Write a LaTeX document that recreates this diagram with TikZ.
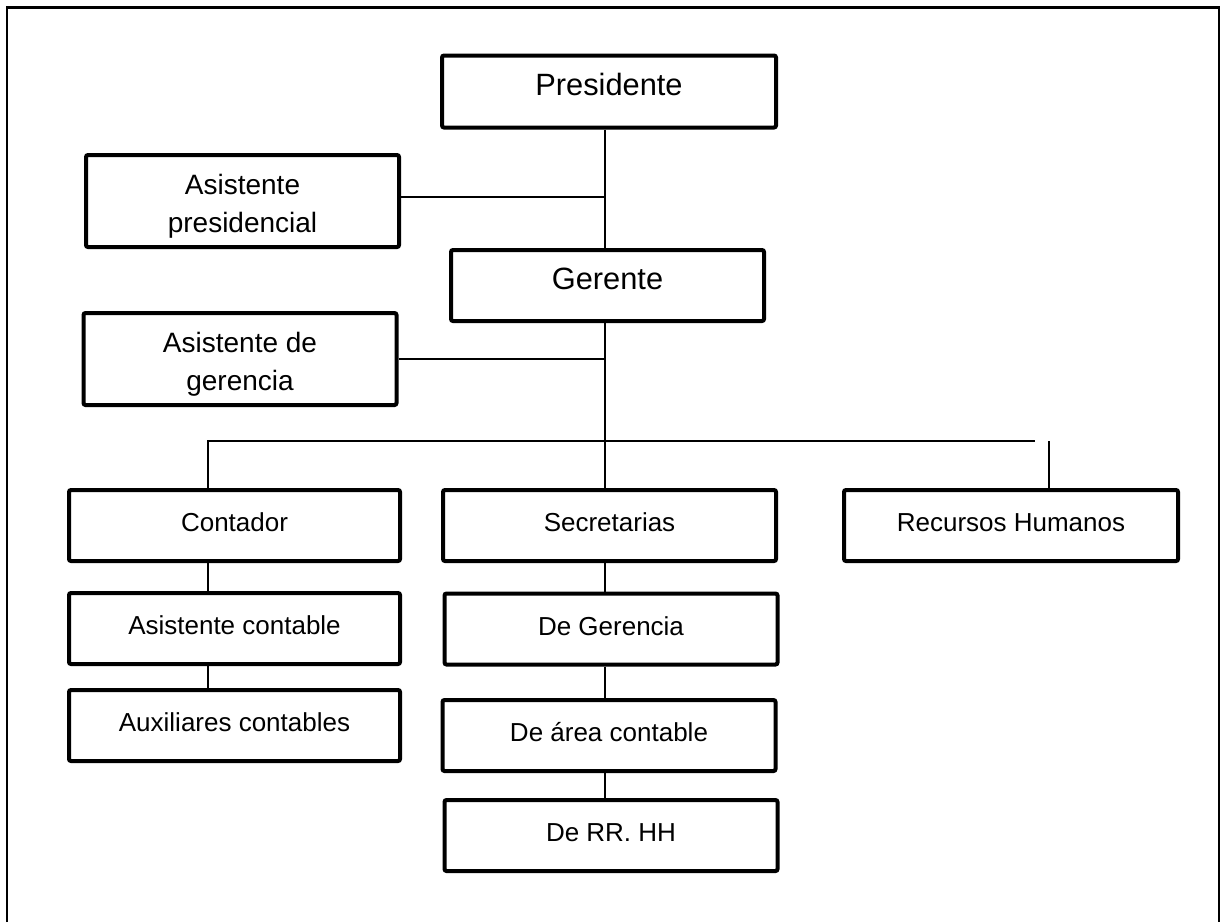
\documentclass[tikz,border=0pt]{standalone}
\usepackage{fontspec}
\setmainfont{Liberation Sans}
\usetikzlibrary{positioning, calc}

\begin{document}
\begin{tikzpicture}[
    x = 0.5pt, y = -0.5pt,
    caja/.style  = {draw = black, line width = 2pt, rounded corners = 1pt,
                    inner sep = 0pt},
    cargo/.style = {caja, font = \fontsize{15.4}{18}\selectfont,
                    minimum height = 36pt,
                    text height = 12pt, text depth = 8pt},
    asist/.style = {caja, align = center,
                    font = \fontsize{14}{19}\selectfont,
                    minimum width = 156.5pt, minimum height = 46pt},
    area/.style  = {caja, font = \fontsize{13}{16}\selectfont,
                    minimum width = 165.5pt, minimum height = 35.5pt,
                    text height = 10pt, text depth = 3.7pt},
    linea/.style = {draw = black, line width = 0.6pt},
    marco/.style = {draw = black, line width = 1.4pt},
  ]
    \useasboundingbox (0,0) rectangle (1225,922);

    %% ── Frame ────────────────────────────────────────────────────
    \draw[marco] (7,922) -- (7,7.5) -- (1219,7.5) -- (1219,922);

    %% ── Top of the chart ─────────────────────────────────────────
    \node[cargo, minimum width = 167pt] (PRES) at (609, 91.5) {Presidente};
    \node[asist] (APRES) at (242.5, 201)
      {\rule{0pt}{15pt}Asistente\\presidencial};
    \node[cargo, minimum width = 156.5pt, minimum height = 35.5pt]
      (GER) at (607.5, 285.5) {Gerente};
    \node[asist] (AGER) at (240, 359)
      {\rule{0pt}{15pt}Asistente de\\gerencia};

    %% ── Left column ──────────────────────────────────────────────
    \node[area] (CONT)  at (234.5, 525.5) {Contador};
    \node[area] (ACONT) at (234.5, 628.5) {Asistente contable};
    \node[area] (AUX)   at (234.5, 725.5) {Auxiliares contables};

    %% ── Middle column ────────────────────────────────────────────
    \node[area, minimum width = 166.5pt] (SEC)   at (609.5, 525.5) {Secretarias};
    \node[area, minimum width = 166.5pt] (SGER)  at (611, 629)     {De Gerencia};
    \node[area, minimum width = 166.5pt] (SAREA) at (609, 735.5)   {De área contable};
    \node[area, minimum width = 166.5pt] (SRRHH) at (611, 835.5)   {De RR. HH};

    %% ── Right column ─────────────────────────────────────────────
    \node[area, minimum width = 167pt] (RRHH) at (1011, 525.5) {Recursos Humanos};

    %% ── Spines and bus ───────────────────────────────────────────
    \coordinate (X0)  at (605, 441);
    \coordinate (XL)  at (208, 441);
    \coordinate (BUS) at (1035, 441);
    \coordinate (XR)  at (1049, 441);

    %% ── Connectors ───────────────────────────────────────────────
    \draw[linea] (PRES.south -| X0) -- (GER.north -| X0);
    \draw[linea] ([yshift=2pt]APRES.east) -- ([yshift=2pt]APRES.east -| X0);
    \draw[linea] (AGER.east) -- (AGER.east -| X0);
    \draw[linea] (GER.south -| X0) -- (SEC.north -| X0);
    \draw[linea] (CONT.north -| XL) -- (XL) -- (BUS);
    \draw[linea] (RRHH.north -| XR) -- (XR);

    \draw[linea] (CONT.south -| XL)  -- (ACONT.north -| XL);
    \draw[linea] (ACONT.south -| XL) -- (AUX.north -| XL);

    \draw[linea] (SEC.south -| X0)   -- (SGER.north -| X0);
    \draw[linea] (SGER.south -| X0)  -- (SAREA.north -| X0);
    \draw[linea] (SAREA.south -| X0) -- (SRRHH.north -| X0);
  \end{tikzpicture}
\end{document}
